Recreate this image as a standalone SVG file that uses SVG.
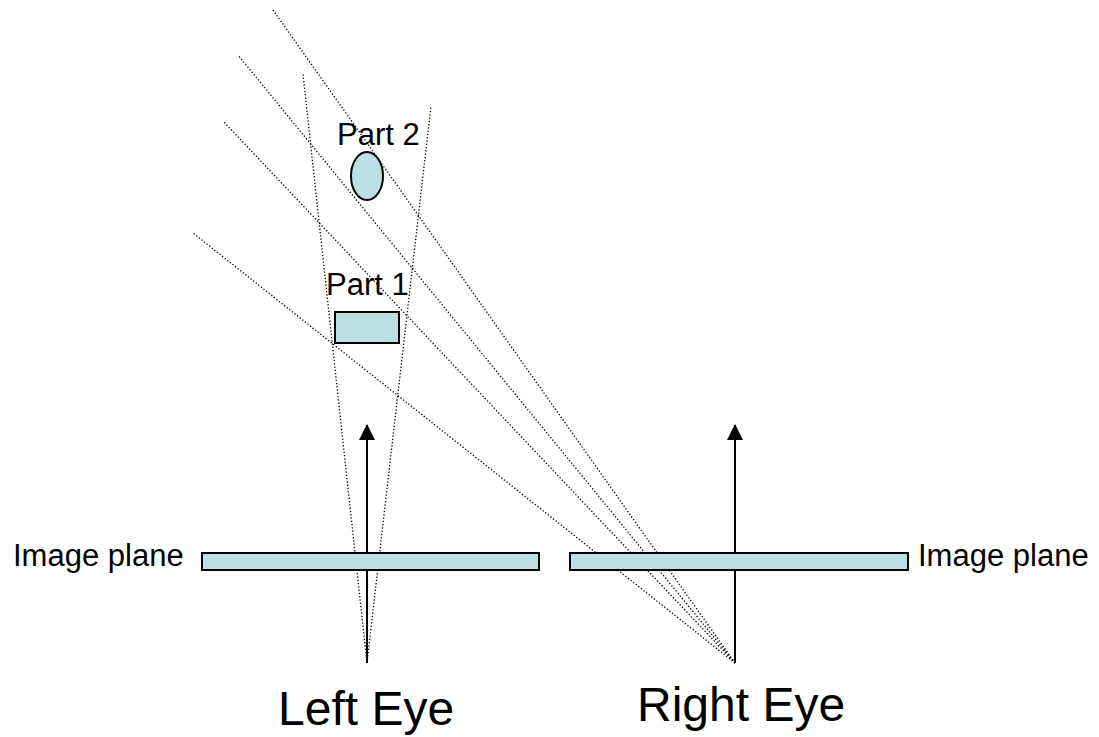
<svg xmlns="http://www.w3.org/2000/svg" width="1099" height="737" viewBox="0 0 1099 737">
<style>
.ray{stroke:#000;stroke-width:1.3;stroke-dasharray:1.3 2;fill:none}
.shape{fill:#bbe0e3;stroke:#000;stroke-width:2}
.axis{stroke:#000;stroke-width:2;fill:none}
.t{font-family:"Liberation Sans",Arial,sans-serif;fill:#000}
</style>
<defs>
<marker id="ah" markerUnits="userSpaceOnUse" markerWidth="16" markerHeight="16" refX="15" refY="8" orient="auto">
<path d="M0,0 L16,8 L0,16 Z" fill="#000"/>
</marker>
</defs>
<rect width="1099" height="737" fill="#fff"/>
<g id="connectors">
<line class="ray" x1="367" y1="663" x2="303" y2="74"/>
<line class="ray" x1="367" y1="663" x2="431" y2="106"/>
<line class="ray" x1="735" y1="663" x2="273" y2="10"/>
<line class="ray" x1="735" y1="663" x2="238" y2="55"/>
<line class="ray" x1="735" y1="663" x2="223" y2="121"/>
<line class="ray" x1="735" y1="663" x2="193" y2="233"/>
<line class="axis" x1="367" y1="663" x2="367" y2="425" marker-end="url(#ah)"/>
<line class="axis" x1="735" y1="663" x2="735" y2="425" marker-end="url(#ah)"/>
</g>
<g id="left-plane">
<rect class="shape" x="202" y="553" width="337" height="17"/>
<text class="t" x="13" y="566" font-size="31">Image plane</text>
</g>
<g id="right-plane">
<rect class="shape" x="570" y="553" width="338" height="17"/>
<text class="t" x="918" y="566" font-size="31">Image plane</text>
</g>
<g id="part1">
<rect class="shape" x="335" y="312" width="64" height="31"/>
<text class="t" x="326" y="295" font-size="31">Part 1</text>
</g>
<g id="part2">
<ellipse class="shape" cx="367" cy="176" rx="16" ry="24"/>
<text class="t" x="337" y="145" font-size="31">Part 2</text>
</g>
<g id="left-eye">
<text class="t" x="278" y="725" font-size="48">Left Eye</text>
</g>
<g id="right-eye">
<text class="t" x="637" y="721" font-size="48">Right Eye</text>
</g>
</svg>
